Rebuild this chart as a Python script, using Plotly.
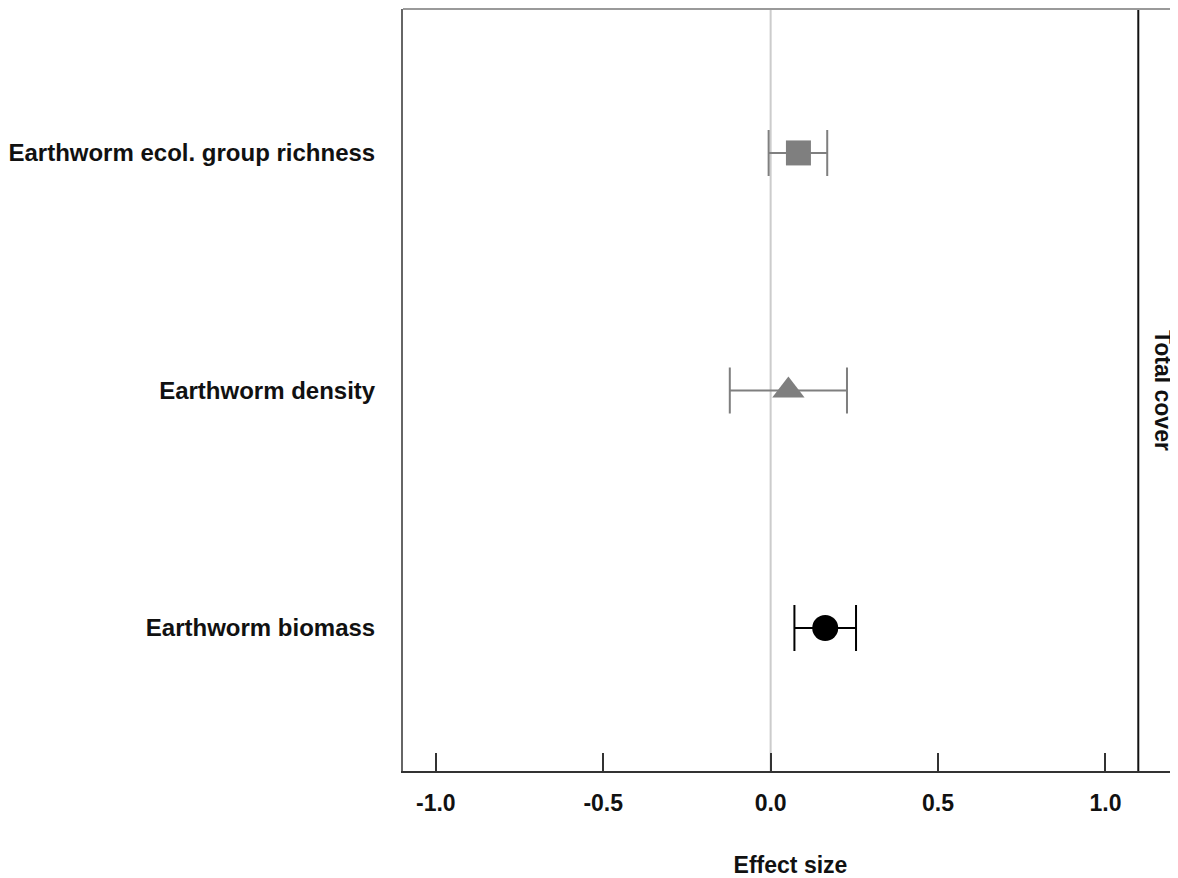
import plotly.graph_objects as go

categories = ["Earthworm ecol. group richness", "Earthworm density", "Earthworm biomass"]
y_pos = [3, 2, 1]
estimates = [0.083, 0.053, 0.163]
lower = [-0.006, -0.122, 0.071]
upper = [0.169, 0.228, 0.255]
symbols = ["square", "triangle-up", "circle"]
colors = ["#7f7f7f", "#7f7f7f", "#000000"]
sizes = [25, 28, 26]
x_ticks = [-1.0, -0.5, 0.0, 0.5, 1.0]
x_ticktext = ["-1.0", "-0.5", "0.0", "0.5", "1.0"]
panel_label = "Total cover"
panel_edge = 1.098

FONT = "Liberation Sans, Arial, sans-serif"

fig = go.Figure()
for i in range(len(categories)):
    fig.add_trace(go.Scatter(
        x=[estimates[i]], y=[y_pos[i]], mode="markers",
        marker=dict(symbol=symbols[i], size=sizes[i], color=colors[i], line=dict(width=0)),
        error_x=dict(type="data", symmetric=False,
                     array=[upper[i] - estimates[i]], arrayminus=[estimates[i] - lower[i]],
                     color=colors[i], thickness=2, width=23),
        showlegend=False, cliponaxis=False,
    ))

# zero reference line
fig.add_shape(type="line", x0=0, x1=0, y0=0, y1=1, xref="x", yref="paper",
              line=dict(color="#cccccc", width=2), layer="below")
# panel right border
fig.add_shape(type="line", x0=panel_edge, x1=panel_edge, y0=0, y1=1, xref="x", yref="paper",
              line=dict(color="#111111", width=2))
# top border
fig.add_shape(type="line", x0=0, x1=1, y0=1, y1=1, xref="paper", yref="paper",
              line=dict(color="#9a9a9a", width=2))

fig.add_annotation(text=panel_label, x=(1163 - 398) / 780, y=0.5, xref="paper", yref="paper",
                   xanchor="center", yanchor="middle",
                   showarrow=False, textangle=90,
                   font=dict(family=FONT, size=23, color="#111111", weight="bold"))

fig.update_layout(
    width=1170, height=870,
    margin=dict(l=390, r=0, t=1, b=107),
    paper_bgcolor="white", plot_bgcolor="white",
    font=dict(family=FONT, color="#111111", weight="bold"),
    xaxis=dict(range=[-1.098, 1.2166], tickvals=x_ticks, ticktext=x_ticktext,
               ticks="inside", ticklen=18, tickwidth=2, tickcolor="#333333",
               showline=True, linecolor="#333333", linewidth=2,
               showgrid=False, zeroline=False,
               tickfont=dict(family=FONT, size=23, color="#111111", weight="bold"),
               ticklabelstandoff=10,
               title=dict(text="Effect size", standoff=42,
                          font=dict(family=FONT, size=23, color="#111111", weight="bold"))),
    yaxis=dict(range=[0.398, 3.606], tickvals=y_pos, ticktext=categories,
               ticks="", showline=True, linecolor="#666666", linewidth=2,
               showgrid=False, zeroline=False, ticklabelstandoff=21,
               tickfont=dict(family=FONT, size=24, color="#111111", weight="bold")),
)

fig.write_html("out.html")
